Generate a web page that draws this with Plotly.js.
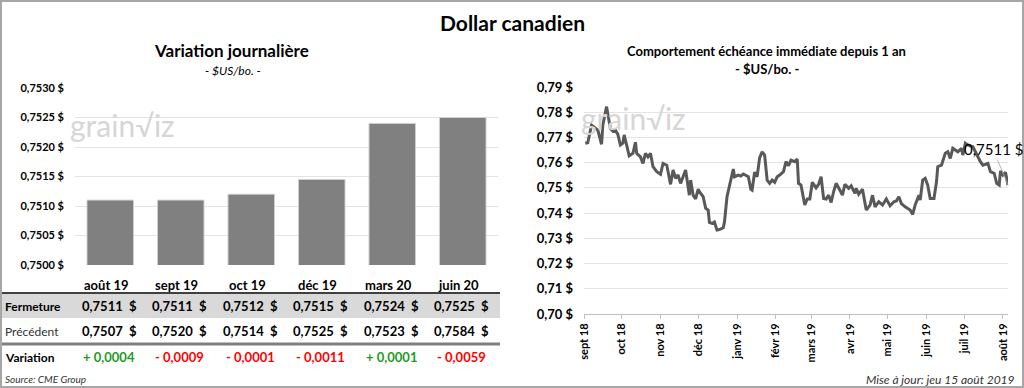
<!DOCTYPE html>
<html><head><meta charset="utf-8">
<script src="https://cdn.plot.ly/plotly-3.0.1.min.js"></script>
<style>html,body{margin:0;padding:0;background:#fff}#chart{width:1024px;height:388px}</style>
</head><body><div id="chart"></div>
<script>
// ---- Left chart / table data ----
const categories = ['août 19','sept 19','oct 19','déc 19','mars 20','juin 20'];
const barValues  = [0.7511, 0.7511, 0.7512, 0.75145, 0.7524, 0.7525];
const fermeture  = [0.7511, 0.7511, 0.7512, 0.7515, 0.7524, 0.7525];
const precedent  = [0.7507, 0.7520, 0.7514, 0.7525, 0.7523, 0.7584];
const variation  = [0.0004, -0.0009, -0.0001, -0.0011, 0.0001, -0.0059];

// ---- Right chart data ----
const dates = ['2018-09-02','2018-09-04','2018-09-07','2018-09-10','2018-09-12','2018-09-15','2018-09-16','2018-09-19','2018-09-22','2018-09-24','2018-09-26','2018-09-28','2018-09-30',
'2018-10-02','2018-10-03','2018-10-05','2018-10-07','2018-10-10','2018-10-12','2018-10-13','2018-10-16','2018-10-18','2018-10-20','2018-10-22','2018-10-24','2018-10-26','2018-10-29',
'2018-11-01','2018-11-03','2018-11-06','2018-11-09','2018-11-11','2018-11-13','2018-11-15','2018-11-17','2018-11-19','2018-11-21','2018-11-24','2018-11-25','2018-11-27','2018-11-29',
'2018-12-01','2018-12-02','2018-12-05','2018-12-07','2018-12-09','2018-12-10','2018-12-12','2018-12-14','2018-12-16','2018-12-18','2018-12-21','2018-12-22','2018-12-24','2018-12-26','2018-12-29','2018-12-30',
'2019-01-02','2019-01-04','2019-01-06','2019-01-09','2019-01-10','2019-01-12','2019-01-13','2019-01-15','2019-01-17','2019-01-19','2019-01-21','2019-01-23','2019-01-25','2019-01-27','2019-01-29','2019-01-31',
'2019-02-02','2019-02-04','2019-02-07','2019-02-09','2019-02-11','2019-02-13','2019-02-16','2019-02-18','2019-02-19','2019-02-21','2019-02-24','2019-02-26','2019-02-28',
'2019-03-02','2019-03-05','2019-03-07','2019-03-09','2019-03-11','2019-03-13','2019-03-15','2019-03-17','2019-03-19','2019-03-21','2019-03-24','2019-03-26','2019-03-28','2019-03-31',
'2019-04-02','2019-04-05','2019-04-06','2019-04-08','2019-04-11','2019-04-14','2019-04-17','2019-04-19','2019-04-21','2019-04-24','2019-04-27','2019-04-30',
'2019-05-03','2019-05-06','2019-05-08','2019-05-10','2019-05-12','2019-05-15','2019-05-19','2019-05-21','2019-05-23','2019-05-26','2019-05-27','2019-05-29','2019-05-31',
'2019-06-02','2019-06-04','2019-06-07','2019-06-09','2019-06-10','2019-06-13','2019-06-16','2019-06-18','2019-06-20','2019-06-22','2019-06-26','2019-06-29','2019-06-30',
'2019-07-02','2019-07-04','2019-07-08','2019-07-11','2019-07-14','2019-07-16','2019-07-20','2019-07-22','2019-07-25','2019-07-27','2019-07-29','2019-07-30',
'2019-08-01','2019-08-03','2019-08-05'];
const prices = [0.7677,0.7679,0.7749,0.7736,0.7729,0.7673,0.7749,0.7822,0.7736,0.7725,0.7729,0.7712,0.7670,
0.7677,0.7710,0.7670,0.7627,0.7637,0.7681,0.7637,0.7623,0.7597,0.7637,0.7623,0.7637,0.7584,0.7564,
0.7554,0.7597,0.7590,0.7514,0.7571,0.7538,0.7551,0.7518,0.7544,0.7571,0.7471,0.7531,0.7471,0.7456,
0.7495,0.7485,0.7465,0.7419,0.7412,0.7363,0.7359,0.7365,0.7333,0.7335,0.7342,0.7365,0.7465,0.7511,0.7575,0.7544,
0.7551,0.7547,0.7555,0.7547,0.7544,0.7494,0.7491,0.7562,0.7544,0.7619,0.7643,0.7630,0.7531,0.7518,0.7531,0.7522,
0.7544,0.7551,0.7564,0.7604,0.7588,0.7610,0.7604,0.7614,0.7518,0.7511,0.7432,0.7456,0.7456,
0.7522,0.7500,0.7514,0.7544,0.7458,0.7456,0.7471,0.7442,0.7485,0.7518,0.7491,0.7471,0.7514,0.7498,
0.7508,0.7478,0.7498,0.7475,0.7495,0.7412,0.7432,0.7471,0.7425,0.7445,0.7432,0.7456,
0.7429,0.7445,0.7448,0.7465,0.7438,0.7425,0.7412,0.7395,0.7432,0.7471,0.7452,0.7531,0.7538,
0.7511,0.7458,0.7458,0.7524,0.7584,0.7590,0.7637,0.7643,0.7617,0.7657,0.7643,0.7657,0.7630,
0.7677,0.7670,0.7663,0.7630,0.7604,0.7590,0.7597,0.7564,0.7558,0.7518,0.7511,0.7567,
0.7551,0.7562,0.7511];
const monthTickVals = ['2018-09-01','2018-10-01','2018-11-01','2018-12-01','2019-01-01','2019-02-01','2019-03-01','2019-04-01','2019-05-01','2019-06-01','2019-07-01','2019-08-01'];
const monthTickText = ['sept 18','oct 18','nov 18','déc 18','janv 19','févr 19','mars 19','avr 19','mai 19','juin 19','juil 19','août 19'];

const FONT = 'Lato, Carlito, "Liberation Sans", sans-serif';
const W = 1024, H = 388;
const px = x => x / W;
const py = y => 1 - y / H;
const fmt = v => v.toFixed(4).replace('.', ',');
const fmtVar = v => (v >= 0 ? '+ ' : '- ') + Math.abs(v).toFixed(4).replace('.', ',');

const traces = [
  {type:'bar', x:categories, y:barValues, xaxis:'x', yaxis:'y',
   marker:{color:'#808080', line:{color:'#d0d0d0', width:1}}, width:0.66, hoverinfo:'x+y'},
  {type:'scatter', mode:'lines', x:dates, y:prices, xaxis:'x2', yaxis:'y2',
   line:{color:'#595959', width:3}, hoverinfo:'x+y'}
];

const ann = [];
function txt(x, y, text, size, opts) {
  ann.push(Object.assign({xref:'paper', yref:'paper', x:x, y:y, text:text, showarrow:false,
    font:{family:FONT, size:size, color:'#000'}, xanchor:'center', yanchor:'middle'}, opts || {}));
}
// titles
txt(px(512), py(22), '<b>Dollar canadien</b>', 21);
txt(px(231), py(51), '<b>Variation journalière</b>', 17);
txt(px(233), py(70), '<i>- $US/bo. -</i>', 12);
txt(px(766), py(51), '<b>Comportement échéance immédiate depuis 1 an</b>', 13);
txt(px(767), py(69), '<b>- $US/bo. -</b>', 13);
// watermarks
txt(px(122), py(125), 'grain√iz', 30, {font:{family:FONT, size:30, color:'#d6d6d6'}});
txt(px(633), py(118), 'grain√iz', 30, {font:{family:FONT, size:30, color:'#d6d6d6'}});
// table
const rows = [
  {label:'<b>Fermeture</b>', y:306, vals:fermeture.map(v => '<b>' + fmt(v) + '  $</b>'), colors:null},
  {label:'Précédent', y:331, vals:precedent.map(v => '<b>' + fmt(v) + '  $</b>'), colors:null},
  {label:'<b>Variation</b>', y:357, vals:variation.map(v => '<b>' + fmtVar(v) + '</b>'), colors:variation.map(v => v >= 0 ? '#1f9a1f' : '#ff0000')}
];
categories.forEach((c) => {
  ann.push({xref:'x', yref:'paper', x:c, y:py(285), text:'<b>'+c+'</b>', showarrow:false,
    font:{family:FONT, size:13, color:'#000'}, xanchor:'center', yanchor:'middle', xshift:-4});
});
rows.forEach(r => {
  txt(px(3), py(r.y), r.label, 12, {xanchor:'left', font:{family:FONT, size:12, color: r.label.indexOf('Pr')===0 ? '#333' : '#000'}});
  categories.forEach((c, i) => {
    ann.push({xref:'x', yref:'paper', x:c, y:py(r.y), text:r.vals[i], showarrow:false,
      font:{family:FONT, size:13, color: r.colors ? r.colors[i] : '#000'}, xanchor:'center', yanchor:'middle', xshift:-1});
  });
});
txt(px(3), py(379), '<i>Source: CME Group</i>', 10, {xanchor:'left', font:{family:FONT, size:10, color:'#333'}});
txt(px(1017), py(379), '<i>Mise à jour: jeu 15 août 2019</i>', 12, {xanchor:'right', font:{family:FONT, size:12, color:'#333'}});
// last value label
const lastI = prices.length - 1;
ann.push({xref:'x2', yref:'y2', x:dates[lastI], y:prices[lastI], text:fmt(prices[lastI]) + ' $',
  showarrow:true, arrowhead:0, arrowwidth:0.8, arrowcolor:'#a6a6a6', ax:-15, ay:-36,
  font:{family:FONT, size:15, color:'#000'}});

const shapes = [
  {type:'rect', xref:'paper', yref:'paper', x0:0, x1:px(500), y0:py(318), y1:py(293), fillcolor:'#d9d9d9', line:{width:0}, layer:'below'},
  {type:'line', xref:'paper', yref:'paper', x0:0, x1:px(500), y0:py(293), y1:py(293), line:{color:'#404040', width:2}},
  {type:'line', xref:'paper', yref:'paper', x0:0, x1:px(500), y0:py(344), y1:py(344), line:{color:'#7f7f7f', width:3}},
  {type:'rect', xref:'paper', yref:'paper', x0:px(1), x1:px(1023), y0:py(387), y1:py(1), line:{color:'#a6a6a6', width:2}, fillcolor:'rgba(0,0,0,0)'}
];

const layout = {
  width:W, height:H, autosize:false,
  margin:{l:0, r:0, t:0, b:0},
  paper_bgcolor:'#fff', plot_bgcolor:'rgba(0,0,0,0)',
  separators:', ',
  showlegend:false,
  font:{family:FONT, color:'#000'},
  xaxis:{domain:[px(75), px(498)], type:'category', showticklabels:false, ticks:'', showgrid:false, showline:false, zeroline:false, fixedrange:true},
  yaxis:{domain:[py(265), py(88)], range:[0.75, 0.753], tickmode:'linear', tick0:0.75, dtick:0.0005, tickformat:'.4f', ticksuffix:' $', showticksuffix:'all',
    showgrid:true, gridcolor:'#e3e3e3', gridwidth:1, zeroline:false, showline:false, ticks:'',
    ticklabelstandoff:10, tickfont:{family:FONT, size:11, color:'#000', weight:'bold'}},
  xaxis2:{domain:[px(584), px(1008)], type:'date', range:['2018-09-01','2019-08-05'], tickvals:monthTickVals, ticktext:monthTickText,
    tickangle:-90, ticks:'outside', ticklen:4, tickcolor:'#bfbfbf', showline:true, linecolor:'#bfbfbf', linewidth:1,
    showgrid:false, zeroline:false, anchor:'y2', tickfont:{family:FONT, size:11, color:'#000', weight:'bold'}},
  yaxis2:{domain:[py(314), py(87)], range:[0.70, 0.79], dtick:0.01, tick0:0.70, tickformat:'.2f', ticksuffix:' $', anchor:'x2',
    showgrid:true, gridcolor:'#e3e3e3', gridwidth:1, zeroline:false, showline:false, ticks:'',
    ticklabelstandoff:10, tickfont:{family:FONT, size:13, color:'#000', weight:'bold'}},
  annotations:ann,
  shapes:shapes
};
Plotly.newPlot('chart', traces, layout, {displayModeBar:false, staticPlot:true});
</script></body></html>
